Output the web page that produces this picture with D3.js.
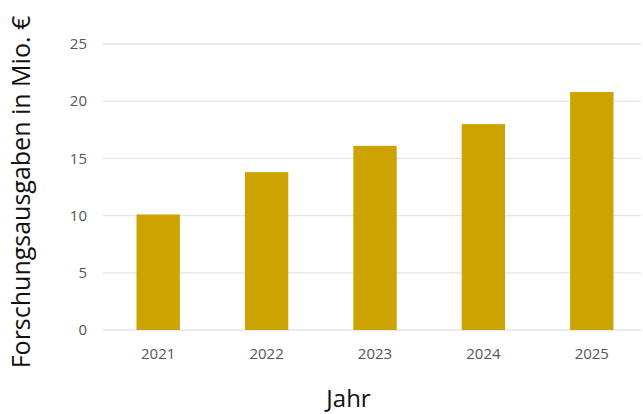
<!DOCTYPE html>
<html>
<head>
<meta charset="utf-8">
<script src="https://cdn.jsdelivr.net/npm/d3@7"></script>
<style>
  body { margin: 0; background: #fff; }
  text { font-family: "Open Sans", sans-serif; }
</style>
</head>
<body>
<div id="chart"></div>
<script>
// data
const years = ["2021", "2022", "2023", "2024", "2025"];
const spending = [10.1, 13.8, 16.1, 18.0, 20.8];
const yTicks = [0, 5, 10, 15, 20, 25];

const W = 643, H = 414;

const svg = d3.select("#chart").append("svg")
    .attr("width", W)
    .attr("height", H);

const x = d3.scaleBand()
    .domain(years)
    .range([104, 646])
    .paddingInner(0.6)
    .paddingOuter(0.3);

const y = d3.scaleLinear()
    .domain([0, 25])
    .range([330, 44]);

// gridlines
svg.append("g")
    .selectAll("line")
    .data(yTicks)
    .enter()
    .append("line")
    .attr("x1", 103)
    .attr("x2", W - 2)
    .attr("y1", d => y(d))
    .attr("y2", d => y(d))
    .attr("stroke", "#e4e4e4")
    .attr("stroke-width", 1.3);

// y tick labels
svg.append("g")
    .selectAll("text")
    .data(yTicks)
    .enter()
    .append("text")
    .attr("x", 87)
    .attr("y", d => y(d))
    .attr("dy", "0.35em")
    .attr("text-anchor", "end")
    .style("font-size", "15px")
    .style("fill", "#555")
    .text(d => d);

// bars
svg.append("g")
    .selectAll("rect")
    .data(spending)
    .enter()
    .append("rect")
    .attr("x", (d, i) => x(years[i]))
    .attr("y", d => y(d))
    .attr("width", x.bandwidth())
    .attr("height", d => y(0) - y(d))
    .attr("fill", "#cca300");

// x tick labels
svg.append("g")
    .selectAll("text")
    .data(years)
    .enter()
    .append("text")
    .attr("x", d => x(d) + x.bandwidth() / 2)
    .attr("y", 359)
    .attr("text-anchor", "middle")
    .style("font-size", "15px")
    .style("fill", "#555")
    .text(d => d);

// axis titles
svg.append("text")
    .attr("x", 348.5)
    .attr("y", 407)
    .attr("text-anchor", "middle")
    .style("font-size", "24px")
    .style("fill", "#111")
    .text("Jahr");

svg.append("text")
    .attr("transform", "translate(29.5,192) rotate(-90)")
    .attr("text-anchor", "middle")
    .style("font-size", "25px")
    .style("fill", "#111")
    .text("Forschungsausgaben in Mio. €");
</script>
</body>
</html>
